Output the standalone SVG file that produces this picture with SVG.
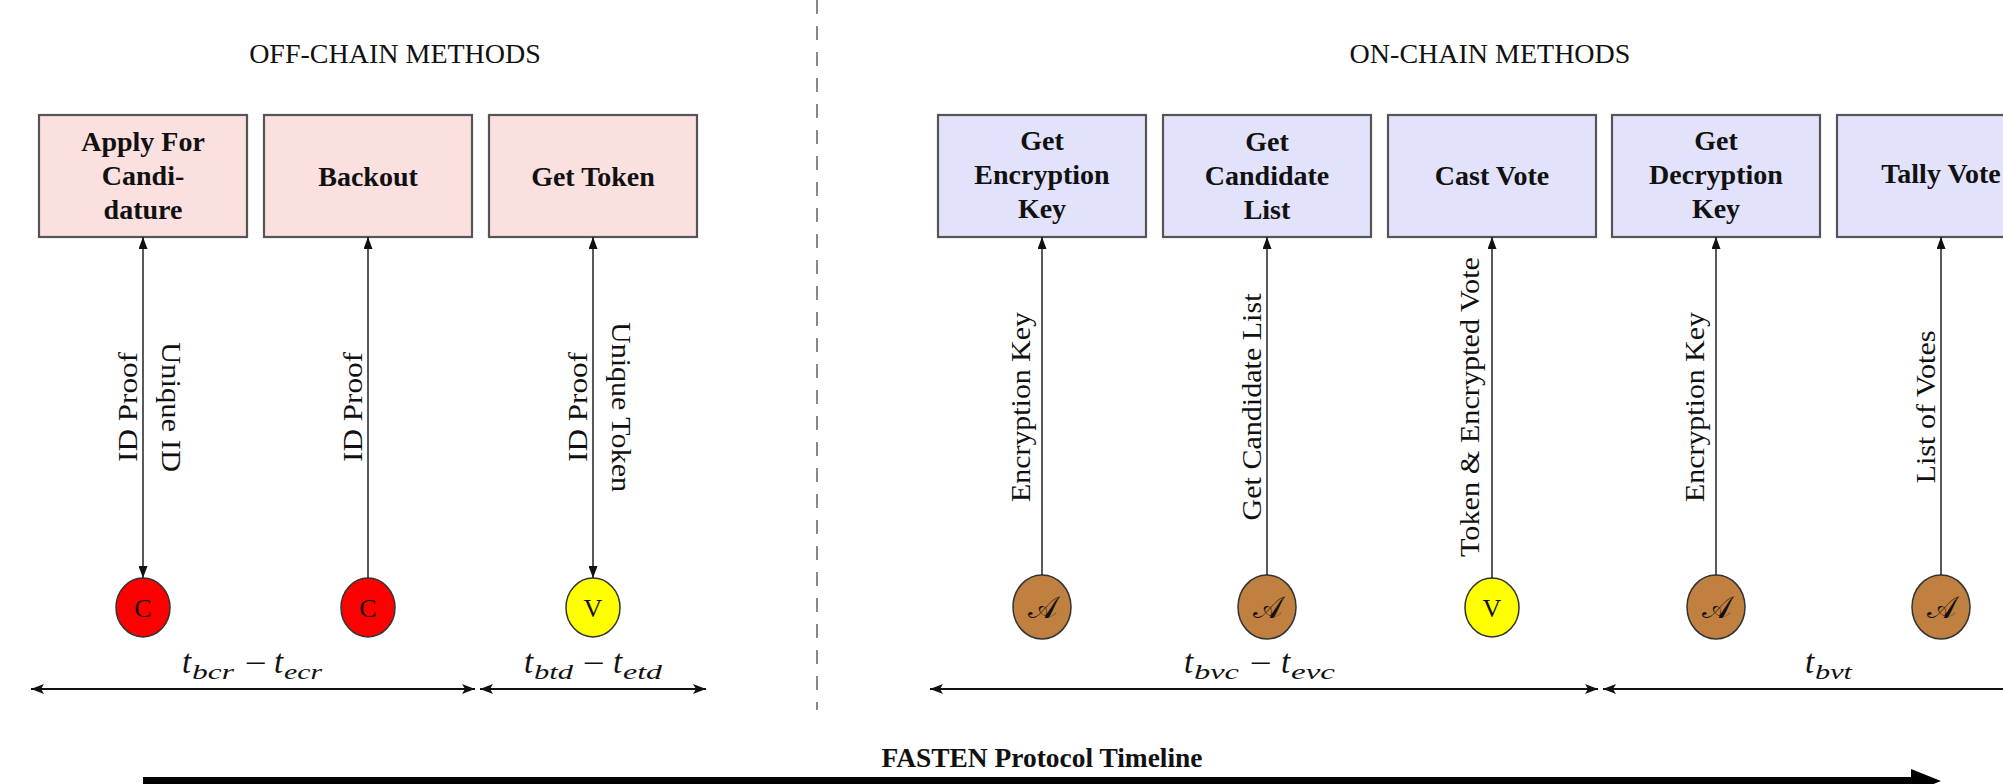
<svg xmlns="http://www.w3.org/2000/svg" width="2003" height="784" viewBox="0 0 2003 784">
<style>
.title{font-family:"Liberation Serif","Times New Roman",serif;font-size:28px;fill:#111;text-anchor:middle}
.btxt{font-family:"Liberation Serif","Times New Roman",serif;font-size:28px;font-weight:bold;fill:#111;text-anchor:middle}
.lbl{font-family:"Liberation Serif","Times New Roman",serif;font-size:28px;fill:#111;text-anchor:middle}
.off{fill:#fbe0e0;stroke:#555;stroke-width:2.2}
.on{fill:#e2e2fb;stroke:#555;stroke-width:2.2}
.conn{stroke:#222;stroke-width:1.5;fill:none}
.span{stroke:#111;stroke-width:2;fill:none}
.cr{fill:#ff0000;stroke:#333;stroke-width:1.5}
.cy{fill:#ffff00;stroke:#333;stroke-width:1.5}
.cb{fill:#bf8040;stroke:#333;stroke-width:1.5}
.ctxt{font-family:"Liberation Serif","Times New Roman",serif;font-size:26px;fill:#111;text-anchor:middle}
.atxt{font-family:"DejaVu Serif","DejaVu Sans","Liberation Serif",serif;font-size:31px;fill:#111;text-anchor:middle}
.m{font-family:"Liberation Serif","Times New Roman",serif;font-style:italic;font-size:33px;fill:#111}
.ms{font-family:"Liberation Serif","Times New Roman",serif;font-style:italic;font-size:22px;fill:#111}
.mo{font-family:"Liberation Serif","Times New Roman",serif;font-size:30px;fill:#111}
</style>
<defs>
<marker id="ah" viewBox="0 0 12 9" refX="12" refY="4.5" markerWidth="12" markerHeight="9" markerUnits="userSpaceOnUse" orient="auto-start-reverse">
<path d="M0,0 L12,4.5 L0,9 z" fill="#111"/>
</marker>
<marker id="th" viewBox="0 0 13 10" refX="13" refY="5" markerWidth="13" markerHeight="10" markerUnits="userSpaceOnUse" orient="auto-start-reverse">
<path d="M0,0 L13,5 L0,10 L3,5 z" fill="#111"/>
</marker>
</defs>
<rect width="2003" height="784" fill="#ffffff"/>

<!-- separator -->
<line x1="817" y1="0" x2="817" y2="710" stroke="#888" stroke-width="2" stroke-dasharray="14 12"/>

<text class="title" x="395" y="63">OFF-CHAIN METHODS</text>
<text class="title" x="1490" y="63">ON-CHAIN METHODS</text>

<!-- method boxes -->
<g id="apply">
<rect class="off" x="39" y="115" width="208" height="122"/>
<text class="btxt" x="143" y="151">Apply For</text>
<text class="btxt" x="143" y="185">Candi-</text>
<text class="btxt" x="143" y="219">dature</text>
</g>
<g id="backout">
<rect class="off" x="264" y="115" width="208" height="122"/>
<text class="btxt" x="368" y="186">Backout</text>
</g>
<g id="gettoken">
<rect class="off" x="489" y="115" width="208" height="122"/>
<text class="btxt" x="593" y="186">Get Token</text>
</g>
<g id="getenc">
<rect class="on" x="938" y="115" width="208" height="122"/>
<text class="btxt" x="1042" y="150">Get</text>
<text class="btxt" x="1042" y="184">Encryption</text>
<text class="btxt" x="1042" y="218">Key</text>
</g>
<g id="getcand">
<rect class="on" x="1163" y="115" width="208" height="122"/>
<text class="btxt" x="1267" y="151">Get</text>
<text class="btxt" x="1267" y="185">Candidate</text>
<text class="btxt" x="1267" y="219">List</text>
</g>
<g id="castvote">
<rect class="on" x="1388" y="115" width="208" height="122"/>
<text class="btxt" x="1492" y="185">Cast Vote</text>
</g>
<g id="getdec">
<rect class="on" x="1612" y="115" width="208" height="122"/>
<text class="btxt" x="1716" y="150">Get</text>
<text class="btxt" x="1716" y="184">Decryption</text>
<text class="btxt" x="1716" y="218">Key</text>
</g>
<g id="tally">
<rect class="on" x="1837" y="115" width="208" height="122"/>
<text class="btxt" x="1941" y="183">Tally Vote</text>
</g>

<!-- actors -->
<g id="c1"><ellipse class="cr" cx="143" cy="607.5" rx="27" ry="29.5"/><text class="ctxt" x="143" y="617">C</text></g>
<g id="c2"><ellipse class="cr" cx="368" cy="607.5" rx="27" ry="29.5"/><text class="ctxt" x="368" y="617">C</text></g>
<g id="v1"><ellipse class="cy" cx="593" cy="607.5" rx="27" ry="29.5"/><text class="ctxt" x="593" y="617">V</text></g>
<g id="a1"><ellipse class="cb" cx="1042" cy="607" rx="29" ry="32"/><text class="atxt" x="1042" y="618">𝒜</text></g>
<g id="a2"><ellipse class="cb" cx="1267" cy="607" rx="29" ry="32"/><text class="atxt" x="1267" y="618">𝒜</text></g>
<g id="v2"><ellipse class="cy" cx="1492" cy="607.5" rx="27" ry="29.5"/><text class="ctxt" x="1492" y="617">V</text></g>
<g id="a3"><ellipse class="cb" cx="1716" cy="607" rx="29" ry="32"/><text class="atxt" x="1716" y="618">𝒜</text></g>
<g id="a4"><ellipse class="cb" cx="1941" cy="607" rx="29" ry="32"/><text class="atxt" x="1941" y="618">𝒜</text></g>

<!-- connectors -->
<g id="connectors">
<line class="conn" x1="143" y1="578" x2="143" y2="237" marker-start="url(#ah)" marker-end="url(#ah)"/>
<line class="conn" x1="368" y1="578" x2="368" y2="237" marker-end="url(#ah)"/>
<line class="conn" x1="593" y1="578" x2="593" y2="237" marker-start="url(#ah)" marker-end="url(#ah)"/>
<line class="conn" x1="1042" y1="575" x2="1042" y2="237" marker-end="url(#ah)"/>
<line class="conn" x1="1267" y1="575" x2="1267" y2="237" marker-end="url(#ah)"/>
<line class="conn" x1="1492" y1="578" x2="1492" y2="237" marker-end="url(#ah)"/>
<line class="conn" x1="1716" y1="575" x2="1716" y2="237" marker-end="url(#ah)"/>
<line class="conn" x1="1941" y1="575" x2="1941" y2="237" marker-end="url(#ah)"/>

<text class="lbl" transform="translate(137,407) rotate(-90)" textLength="110" lengthAdjust="spacingAndGlyphs">ID Proof</text>
<text class="lbl" transform="translate(162,407) rotate(90)" textLength="130" lengthAdjust="spacingAndGlyphs">Unique ID</text>
<text class="lbl" transform="translate(362,407) rotate(-90)" textLength="110" lengthAdjust="spacingAndGlyphs">ID Proof</text>
<text class="lbl" transform="translate(587,407) rotate(-90)" textLength="110" lengthAdjust="spacingAndGlyphs">ID Proof</text>
<text class="lbl" transform="translate(612,407) rotate(90)" textLength="170" lengthAdjust="spacingAndGlyphs">Unique Token</text>
<text class="lbl" transform="translate(1030,407) rotate(-90)" textLength="190" lengthAdjust="spacingAndGlyphs">Encryption Key</text>
<text class="lbl" transform="translate(1261,407) rotate(-90)" textLength="227" lengthAdjust="spacingAndGlyphs">Get Candidate List</text>
<text class="lbl" transform="translate(1479,407) rotate(-90)" textLength="300" lengthAdjust="spacingAndGlyphs">Token &amp; Encrypted Vote</text>
<text class="lbl" transform="translate(1704,407) rotate(-90)" textLength="190" lengthAdjust="spacingAndGlyphs">Encryption Key</text>
<text class="lbl" transform="translate(1935,407) rotate(-90)" textLength="153" lengthAdjust="spacingAndGlyphs">List of Votes</text>

<!-- phase spans -->
<line class="span" x1="31" y1="689" x2="475" y2="689" marker-start="url(#th)" marker-end="url(#th)"/>
<line class="span" x1="480" y1="689" x2="706" y2="689" marker-start="url(#th)" marker-end="url(#th)"/>
<line class="span" x1="930" y1="689" x2="1598" y2="689" marker-start="url(#th)" marker-end="url(#th)"/>
<line class="span" x1="1603" y1="689" x2="2020" y2="689" marker-start="url(#th)"/>

<text x="182" y="673"><tspan class="m" x="182">t</tspan><tspan class="ms" x="192" y="679" textLength="42" lengthAdjust="spacingAndGlyphs">bcr</tspan><tspan class="mo" x="245" y="673" textLength="22" lengthAdjust="spacingAndGlyphs">−</tspan><tspan class="m" x="274" y="673">t</tspan><tspan class="ms" x="284" y="679" textLength="38" lengthAdjust="spacingAndGlyphs">ecr</tspan></text>
<text x="524" y="673"><tspan class="m" x="524">t</tspan><tspan class="ms" x="534" y="679" textLength="39" lengthAdjust="spacingAndGlyphs">btd</tspan><tspan class="mo" x="583" y="673" textLength="22" lengthAdjust="spacingAndGlyphs">−</tspan><tspan class="m" x="613" y="673">t</tspan><tspan class="ms" x="623" y="679" textLength="39" lengthAdjust="spacingAndGlyphs">etd</tspan></text>
<text x="1184" y="673"><tspan class="m" x="1184">t</tspan><tspan class="ms" x="1194" y="679" textLength="45" lengthAdjust="spacingAndGlyphs">bvc</tspan><tspan class="mo" x="1250" y="673" textLength="22" lengthAdjust="spacingAndGlyphs">−</tspan><tspan class="m" x="1281" y="673">t</tspan><tspan class="ms" x="1291" y="679" textLength="44" lengthAdjust="spacingAndGlyphs">evc</tspan></text>
<text x="1805" y="673"><tspan class="m" x="1805">t</tspan><tspan class="ms" x="1815" y="679" textLength="37" lengthAdjust="spacingAndGlyphs">bvt</tspan></text>

<!-- timeline -->
<line x1="143" y1="781" x2="1914" y2="781" stroke="#000" stroke-width="8"/>
<path d="M1911,769 L1941,781 L1911,793 z" fill="#000"/>
<text class="btxt" x="1042" y="767" textLength="321" lengthAdjust="spacingAndGlyphs">FASTEN Protocol Timeline</text>
</g>
</svg>
